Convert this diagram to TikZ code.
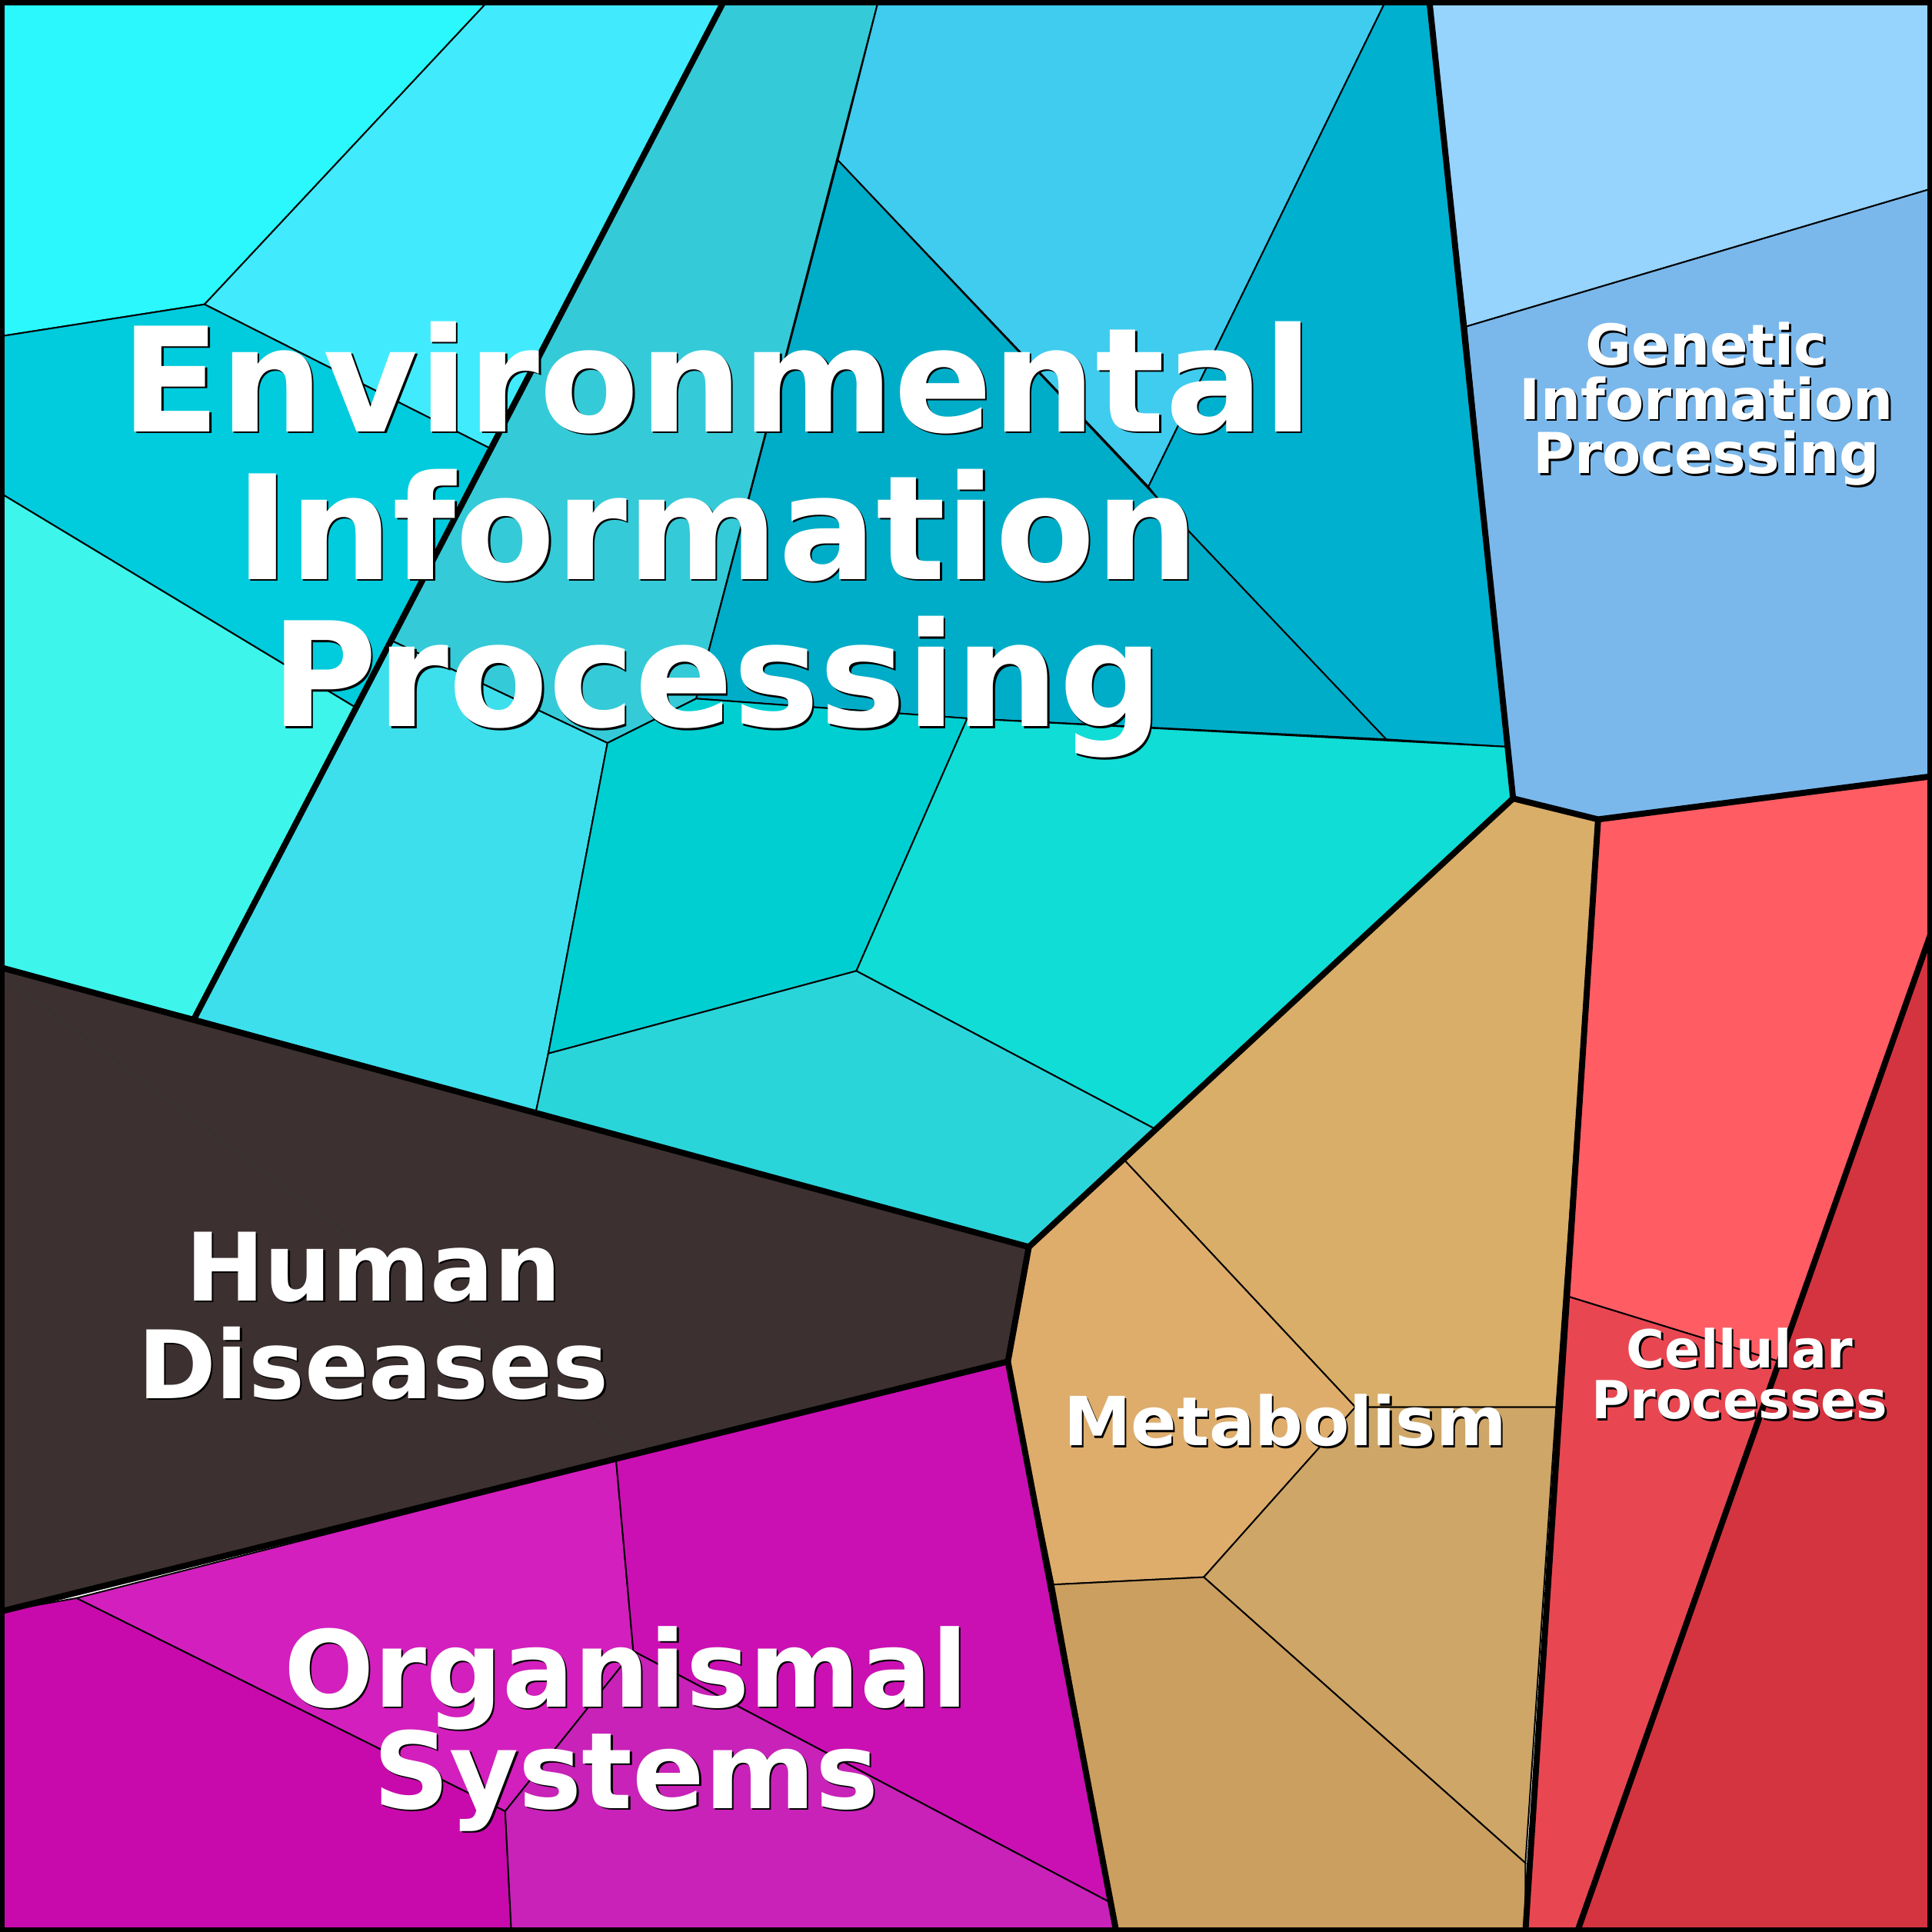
\documentclass[tikz,border=0pt]{standalone}
\usepackage{fontspec}
\setmainfont{DejaVu Sans}
\begin{document}
\begin{tikzpicture}[x=0.01cm,y=-0.01cm,
  cell/.style={draw=black,line width=0.35pt},
  major/.style={draw=black,line width=1.4pt,line join=round},
  lbl/.style={text=white,font=\bfseries,align=center,inner sep=0pt},
  shd/.style={text=black,font=\bfseries,align=center,inner sep=0pt}]
\useasboundingbox (0,0) rectangle (1568,1568);
\definecolor{e1}{HTML}{2AF8FD}\definecolor{e2}{HTML}{41EBFD}\definecolor{e3}{HTML}{00CCDD}
\definecolor{e4}{HTML}{3EF5EB}\definecolor{e5}{HTML}{35CAD8}\definecolor{e6}{HTML}{3FCCEE}
\definecolor{e7}{HTML}{00B0CF}\definecolor{e8}{HTML}{00ADC8}\definecolor{e9}{HTML}{3DDFEC}
\definecolor{e10}{HTML}{00CFD2}\definecolor{e11}{HTML}{10DDD6}\definecolor{e12}{HTML}{2AD5DA}
\fill[e1,cell] (0,0)--(397,0)--(166,247)--(0,273)--cycle;
\fill[e2,cell] (397,0)--(588,0)--(400,365)--(166,247)--cycle;
\fill[e3,cell] (0,273)--(166,247)--(400,365)--(290,575)--(0,400)--cycle;
\fill[e4,cell] (0,400)--(290,575)--(158,826)--(0,785)--cycle;
\fill[e5,cell] (588,0)--(713,0)--(565,567)--(493,603)--(318,520)--cycle;
\fill[e6,cell] (713,0)--(1125,0)--(932,395)--(680,130)--cycle;
\fill[e7,cell] (1125,0)--(1160,0)--(1222,606)--(1125,600)--(940,405)--(932,395)--cycle;
\fill[e8,cell] (680,130)--(940,405)--(1125,600)--(785,583)--(565,567)--cycle;
\fill[e9,cell] (318,520)--(493,603)--(445,855)--(435,902)--(158,826)--cycle;
\fill[e10,cell] (493,603)--(565,567)--(785,583)--(695,788)--(445,855)--cycle;
\fill[e11,cell] (785,583)--(1222,606)--(1228,648)--(937,916)--(695,788)--cycle;
\fill[e12,cell] (445,855)--(695,788)--(937,916)--(835,1012)--(435,902)--cycle;
\fill[fill={rgb,255:red,150;green,211;blue,253},cell] (1160,0)--(1568,0)--(1568,153)--(1190,265)--cycle;
\fill[fill={rgb,255:red,122;green,184;blue,236},cell] (1190,265)--(1568,153)--(1568,630)--(1297,665)--(1228,648)--cycle;
\fill[fill={rgb,255:red,255;green,92;blue,99},cell] (1297,665)--(1568,630)--(1568,755)--(1444,1105)--(1272,1052)--cycle;
\fill[fill={rgb,255:red,232;green,71;blue,82},cell] (1272,1052)--(1444,1105)--(1280,1568)--(1238,1568)--cycle;
\fill[fill={rgb,255:red,212;green,52;blue,63},cell] (1568,755)--(1568,1568)--(1280,1568)--cycle;
\fill[fill={rgb,255:red,217;green,174;blue,105},cell] (913,942)--(1228,648)--(1297,665)--(1263,1142)--(1100,1142)--cycle;
\fill[fill={rgb,255:red,222;green,173;blue,108},cell] (835,1012)--(913,942)--(1100,1142)--(977,1280)--(855,1286)--(818,1105)--cycle;
\fill[fill={rgb,255:red,206;green,166;blue,103},cell] (1100,1142)--(1263,1142)--(1238,1512)--(977,1280)--cycle;
\fill[fill={rgb,255:red,203;green,159;blue,96},cell] (855,1286)--(977,1280)--(1238,1512)--(1238,1568)--(906,1568)--cycle;
\fill[fill={rgb,255:red,60;green,48;blue,48},cell] (0,785)--(835,1012)--(818,1105)--(0,1308)--cycle;
\draw[black!60!gray,line width=0.2pt] (0,790)--(520,1180);
\fill[fill={rgb,255:red,211;green,31;blue,189},cell] (62,1297)--(500,1185)--(514,1340)--(410,1470)--cycle;
\fill[fill={rgb,255:red,202;green,16;blue,179},cell] (500,1185)--(818,1105)--(903,1545)--(514,1340)--cycle;
\fill[fill={rgb,255:red,200;green,10;blue,172},cell] (0,1308)--(62,1297)--(410,1470)--(415,1568)--(0,1568)--cycle;
\fill[fill={rgb,255:red,200;green,34;blue,184},cell] (410,1470)--(514,1340)--(903,1545)--(906,1568)--(415,1568)--cycle;
\draw[major] (588,0)--(158,826);
\draw[major] (1160,0)--(1228,648)--(835,1012)--(0,785);
\draw[major] (1228,648)--(1297,665)--(1568,630);
\draw[major] (1297,665)--(1238,1568);
\draw[major] (835,1012)--(818,1105)--(906,1568);
\draw[major] (818,1105)--(0,1308);
\draw[major] (1568,755)--(1280,1568);
\draw[line width=2.3pt] (0,0) rectangle (1568,1568);
\foreach \n/\x/\y/\s/\b/\t in {env/582/438/33.5/34/{Environmental\\Information\\Processing},
  gen/1385/328/13/12.5/{Genetic\\Information\\Processing},
  cel/1412/1115/12.1/11.8/{Cellular\\Processes},
  met/1043/1153/15.6/17/{Metabolism},
  hum/303/1068/21.8/22.5/{Human\\Diseases},
  org/508/1403/24.5/23.5/{Organismal\\Systems}}{
  \node[shd,font=\fontsize{\s}{\b}\selectfont\bfseries] (\n s) at (\x+1.5,\y+1.5) {\t};
  \node[lbl,font=\fontsize{\s}{\b}\selectfont\bfseries] (\n) at (\x,\y) {\t};
}
\end{tikzpicture}
\end{document}
